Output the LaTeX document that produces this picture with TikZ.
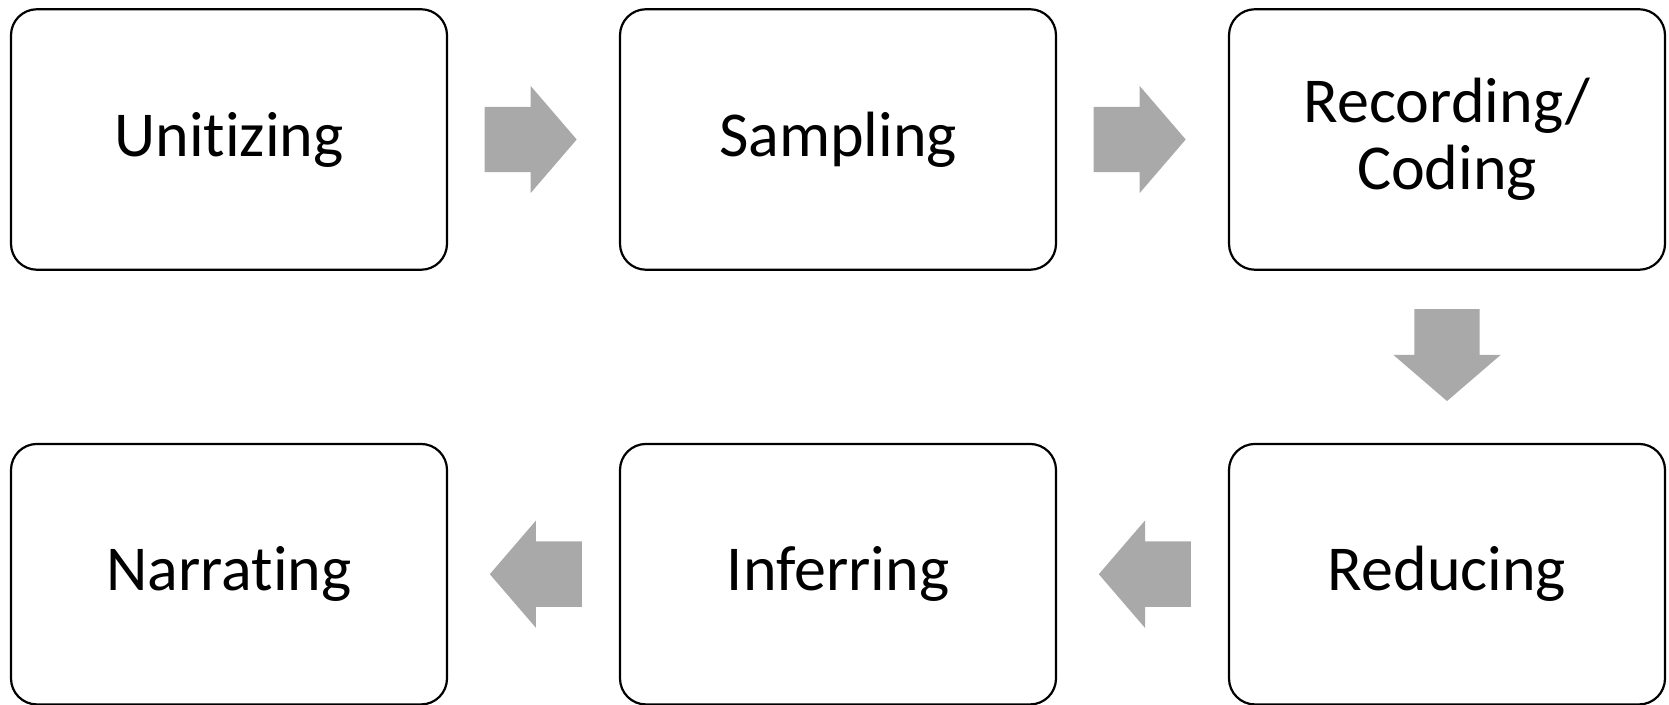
\documentclass[tikz,border=0pt]{standalone}
\usepackage{fontspec}
\setmainfont{Carlito}[RawFeature={-liga;-calt;-dlig}]
\usetikzlibrary{calc,shapes.arrows}

\definecolor{arrowgray}{RGB}{169,169,169}

\begin{document}
\begin{tikzpicture}[x=1pt,y=1pt,
    stage/.style={draw=black, line width=2.2pt, rounded corners=26pt,
        minimum width=436pt, minimum height=260.5pt, align=center,
        font=\fontsize{64}{67}\selectfont},
    flow/.style={single arrow, fill=arrowgray, draw=none, anchor=tail,
        inner xsep=0pt, inner ysep=32.5pt, minimum height=92pt,
        single arrow head extend=21pt, single arrow tip angle=98.6}]
    \useasboundingbox (0,0) rectangle (1669,704);

    % The six stages, upper row left to right, lower row right to left
    \node[stage] (unit) at (229,564.5) {Unitizing};
    \node[stage] (samp) at (838,564.5) {Sampling};
    \node[stage] (rec)  at (1447,564.5) {Recording/\\Coding};
    \node[stage] (red)  at (1447,129.8) {Reducing};
    \node[stage] (inf)  at (838,129.8) {Inferring};
    \node[stage] (narr) at (229,129.8) {Narrating};

    % Block arrows between the stages (placed by their tails)
    \node[flow] (u_s) at ($(unit.east)!0.5!(samp.west)+(-49,0)$) {};
    \node[flow] (s_r) at ($(samp.east)!0.5!(rec.west)+(-49,0)$) {};
    \node[flow,rotate=-90] (r_r) at ($(rec.south)!0.5!(red.north)+(0,48)$) {};
    \node[flow,rotate=180] (r_i) at ($(red.west)!0.5!(inf.east)+(48.5,0)$) {};
    \node[flow,rotate=180] (i_n) at ($(inf.west)!0.5!(narr.east)+(48.5,0)$) {};
\end{tikzpicture}
\end{document}
